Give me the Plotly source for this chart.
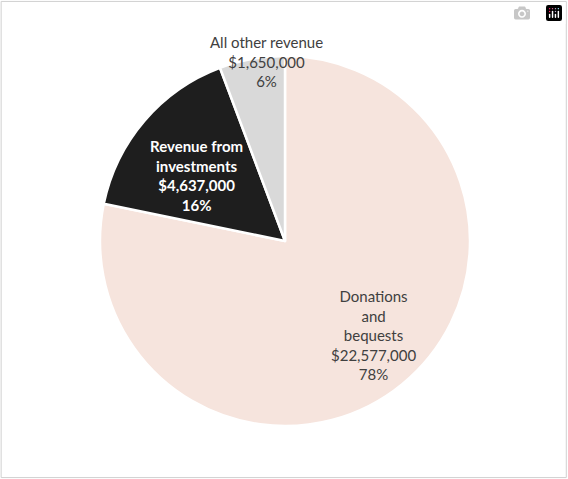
import plotly.graph_objects as go

labels = ["Donations and bequests", "Revenue from investments", "All other revenue"]
label_lines = [["Donations", "and", "bequests"], ["Revenue from", "investments"], ["All other revenue"]]
amounts = [22577000, 4637000, 1650000]
percents = ["78%", "16%", "6%"]
colors = ["#F6E4DD", "#1E1E1E", "#D9D9D9"]

W, H = 568, 479

fig = go.Figure(
    go.Pie(
        labels=labels,
        values=amounts,
        sort=False,
        direction="clockwise",
        rotation=0,
        textinfo="none",
        hoverinfo="label+value+percent",
        marker=dict(colors=colors, line=dict(color="white", width=2.5)),
        domain=dict(x=[100 / W, 470 / W], y=[1 - 426 / H, 1 - 56 / H]),
        showlegend=False,
    )
)

# label positions in pixels (x, y from top) and styles
label_pos = [(373, 335), (196, 176), (266, 62)]
label_colors = ["#404040", "white", "#404040"]
label_bold = [False, True, False]
for lines, amt, pct, (px, py), col, bold in zip(
    label_lines, amounts, percents, label_pos, label_colors, label_bold
):
    txt = "<br>".join(lines + [f"${amt:,}", pct])
    if bold:
        txt = "<b>" + txt + "</b>"
    fig.add_annotation(
        xref="paper", yref="paper", x=px / W, y=1 - py / H,
        text=txt, showarrow=False, xanchor="center", yanchor="middle",
        font=dict(size=15, color=col, family="Lato"), align="center",
    )

fig.add_shape(
    type="rect", xref="paper", yref="paper", x0=0.002, y0=0.003, x1=0.997, y1=0.997,
    line=dict(color="#D0D0D0", width=1),
)

fig.update_layout(
    width=W, height=H,
    margin=dict(l=0, r=0, t=0, b=0),
    paper_bgcolor="white",
    plot_bgcolor="white",
    font=dict(family="Lato"),
)
fig.write_html(
    "out.html",
    post_script="document.body.style.margin='0';document.body.style.overflow='hidden';",
)
